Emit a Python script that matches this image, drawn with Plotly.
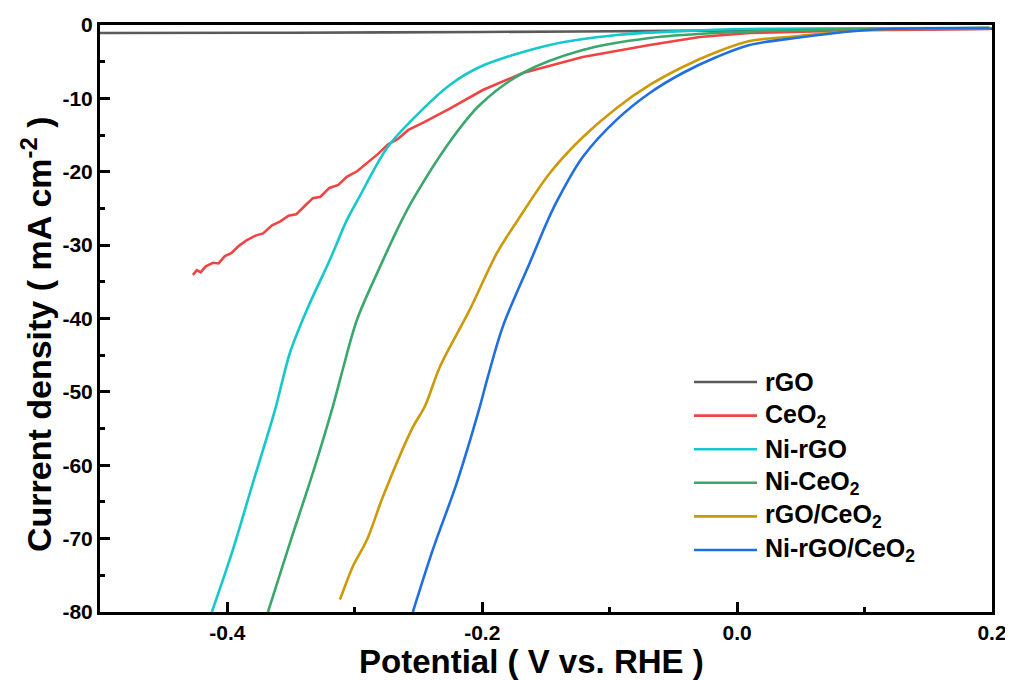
import plotly.graph_objects as go

# ---- data ----
names = ["rGO", "CeO<sub>2</sub>", "Ni-rGO", "Ni-CeO<sub>2</sub>", "rGO/CeO<sub>2</sub>", "Ni-rGO/CeO<sub>2</sub>"]
colors = ["#5a5a5a", "#f04444", "#14c8cc", "#3aa86c", "#cc9908", "#1f6fe0"]

rgo_x = [-0.5, -0.35, -0.2, -0.05, 0.1, 0.2]
rgo_y = [-1.1, -1.05, -0.95, -0.8, -0.6, -0.5]

ceo2_x = [-0.4271, -0.424, -0.421, -0.417, -0.4114, -0.407, -0.402, -0.397, -0.391, -0.3847,
          -0.378, -0.372, -0.365, -0.3588, -0.352, -0.346, -0.339, -0.3329, -0.327, -0.320,
          -0.313, -0.3063, -0.298, -0.290, -0.282, -0.2741, -0.266, -0.258, -0.2467, -0.2255,
          -0.1996, -0.1682, -0.1212, -0.0686, -0.0294, 0.0098, 0.1, 0.198]
ceo2_y = [-34.06, -33.4, -33.7, -32.9, -32.4, -32.5, -31.5, -31.1, -30.1, -29.3,
          -28.7, -28.4, -27.3, -26.8, -26.0, -25.8, -24.6, -23.6, -23.4, -22.2,
          -21.8, -20.7, -19.9, -18.8, -17.6, -16.3, -15.5, -14.3, -13.35, -11.4,
          -8.86, -6.54, -4.36, -2.72, -1.63, -1.09, -0.7, -0.55]

nirgo_x = [-0.4122, -0.3957, -0.3800, -0.3627, -0.3510, -0.3376, -0.3196, -0.3063, -0.2976,
           -0.2741, -0.2475, -0.2255, -0.2020, -0.1471, -0.0945, -0.0427, 0.0098, 0.198]
nirgo_y = [-80.0, -71.5, -62.4, -52.5, -44.7, -38.8, -32.0, -26.6, -23.8,
           -16.6, -11.6, -8.17, -5.72, -2.72, -1.36, -0.82, -0.54, -0.41]

niceo2_x = [-0.3682, -0.3510, -0.3329, -0.3173, -0.3102, -0.2984, -0.2804, -0.2631, -0.2545,
            -0.2255, -0.2020, -0.1682, -0.1212, -0.0686, -0.0161, 0.049, 0.198]
niceo2_y = [-80.0, -70.6, -61.0, -52.0, -47.4, -40.2, -33.0, -26.6, -23.8,
            -15.9, -10.9, -6.54, -3.41, -1.77, -1.09, -0.68, -0.41]

rgoceo2_x = [-0.3118, -0.3095, -0.3016, -0.2906, -0.2780, -0.2545, -0.2451, -0.2333, -0.2098,
             -0.1886, -0.1722, -0.1471, -0.1212, -0.0945, -0.0686, -0.0427, -0.0161, 0.0098,
             0.049, 0.1016, 0.198]
rgoceo2_y = [-78.3, -77.3, -73.8, -70.2, -64.3, -54.8, -52.0, -46.6, -38.8,
             -31.1, -26.6, -20.2, -15.3, -11.3, -8.17, -5.72, -3.68, -2.18,
             -1.5, -0.68, -0.41]

nirgoceo2_x = [-0.2545, -0.2388, -0.2200, -0.2027, -0.1957, -0.1839, -0.1627, -0.1486, -0.1408,
               -0.1212, -0.0945, -0.0686, -0.0427, -0.0161, 0.0098, 0.049, 0.1016, 0.198]
nirgoceo2_y = [-80.0, -71.5, -62.4, -52.5, -48.0, -41.1, -32.4, -26.6, -23.8,
               -18.0, -12.9, -9.26, -6.54, -4.36, -2.72, -1.7, -0.68, -0.41]

x_ticks = [-0.4, -0.2, 0.0, 0.2]
x_ticktext = ["-0.4", "-0.2", "0.0", "0.2"]
x_minor = [-0.5, -0.3, -0.1, 0.1]
y_ticks = [0, -10, -20, -30, -40, -50, -60, -70, -80]
y_ticktext = ["0", "-10", "-20", "-30", "-40", "-50", "-60", "-70", "-80"]
y_minor = [-5, -15, -25, -35, -45, -55, -65, -75]

x_title = "Potential ( V vs. RHE )"
y_title = "Current density ( mA cm<sup>-2</sup> )"

series = [(rgo_x, rgo_y), (ceo2_x, ceo2_y), (nirgo_x, nirgo_y), (niceo2_x, niceo2_y),
          (rgoceo2_x, rgoceo2_y), (nirgoceo2_x, nirgoceo2_y)]

FONT = "Liberation Sans, Arial, sans-serif"

fig = go.Figure()
for i, ((xs, ys), name, col) in enumerate(zip(series, names, colors)):
    fig.add_trace(go.Scatter(x=xs, y=ys, mode="lines", name=name,
                             line=dict(color=col, width=2.6,
                                       shape="linear" if i == 1 else "spline",
                                       smoothing=0.9),
                             showlegend=False))

# page is shown with an 8px body margin; plot area in page pixels:
OFF = 8
L, T, W, H = 100, 25, 892, 587
def px(xp):
    return (xp - L) / W
def py(yp):
    return 1 - (yp - T) / H

for i, (name, col) in enumerate(zip(names, colors)):
    yc = 382 + i * 33.6
    fig.add_shape(type="line", xref="paper", yref="paper",
                  x0=px(694), x1=px(757), y0=py(yc), y1=py(yc),
                  line=dict(color=col, width=2.6))
    fig.add_annotation(xref="paper", yref="paper", x=px(763), y=py(yc),
                       text="<b>" + name + "</b>", showarrow=False,
                       xanchor="left", yanchor="middle",
                       font=dict(family=FONT, size=25, color="black"))

# axis titles
fig.add_annotation(xref="paper", yref="paper", x=px(531), y=py(661),
                   text="<b>" + x_title + "</b>", showarrow=False,
                   xanchor="center", yanchor="middle",
                   font=dict(family=FONT, size=33, color="black"))
fig.add_annotation(xref="paper", yref="paper", x=px(36), y=py(334),
                   text="<b>" + y_title + "</b>", showarrow=False, textangle=-90,
                   xanchor="center", yanchor="middle",
                   font=dict(family=FONT, size=34, color="black"))

axis_common = dict(showline=True, linewidth=3, linecolor="black", mirror=True,
                   ticks="inside", ticklen=10, tickwidth=3, tickcolor="black",
                   showgrid=False, zeroline=False, automargin=False,
                   tickfont=dict(family=FONT, size=21, color="black", weight="bold"))

fig.update_xaxes(range=[-0.5, 0.2], tickmode="array", tickvals=x_ticks, ticktext=x_ticktext,
                 minor=dict(tickmode="array", tickvals=x_minor, ticks="inside", ticklen=5,
                            tickwidth=3, tickcolor="black"),
                 **axis_common)
fig.update_yaxes(range=[-80, 0], tickmode="array", tickvals=y_ticks, ticktext=y_ticktext,
                 minor=dict(tickmode="array", tickvals=y_minor, ticks="inside", ticklen=5,
                            tickwidth=3, tickcolor="black"),
                 **axis_common)

fig.update_layout(width=1013 - OFF, height=680 - OFF, autosize=False,
                  margin=dict(l=L - OFF, r=1013 - L - W, t=T - OFF, b=680 - T - H),
                  paper_bgcolor="white", plot_bgcolor="white",
                  font=dict(family=FONT, color="black"))

fig.write_html("out.html")
